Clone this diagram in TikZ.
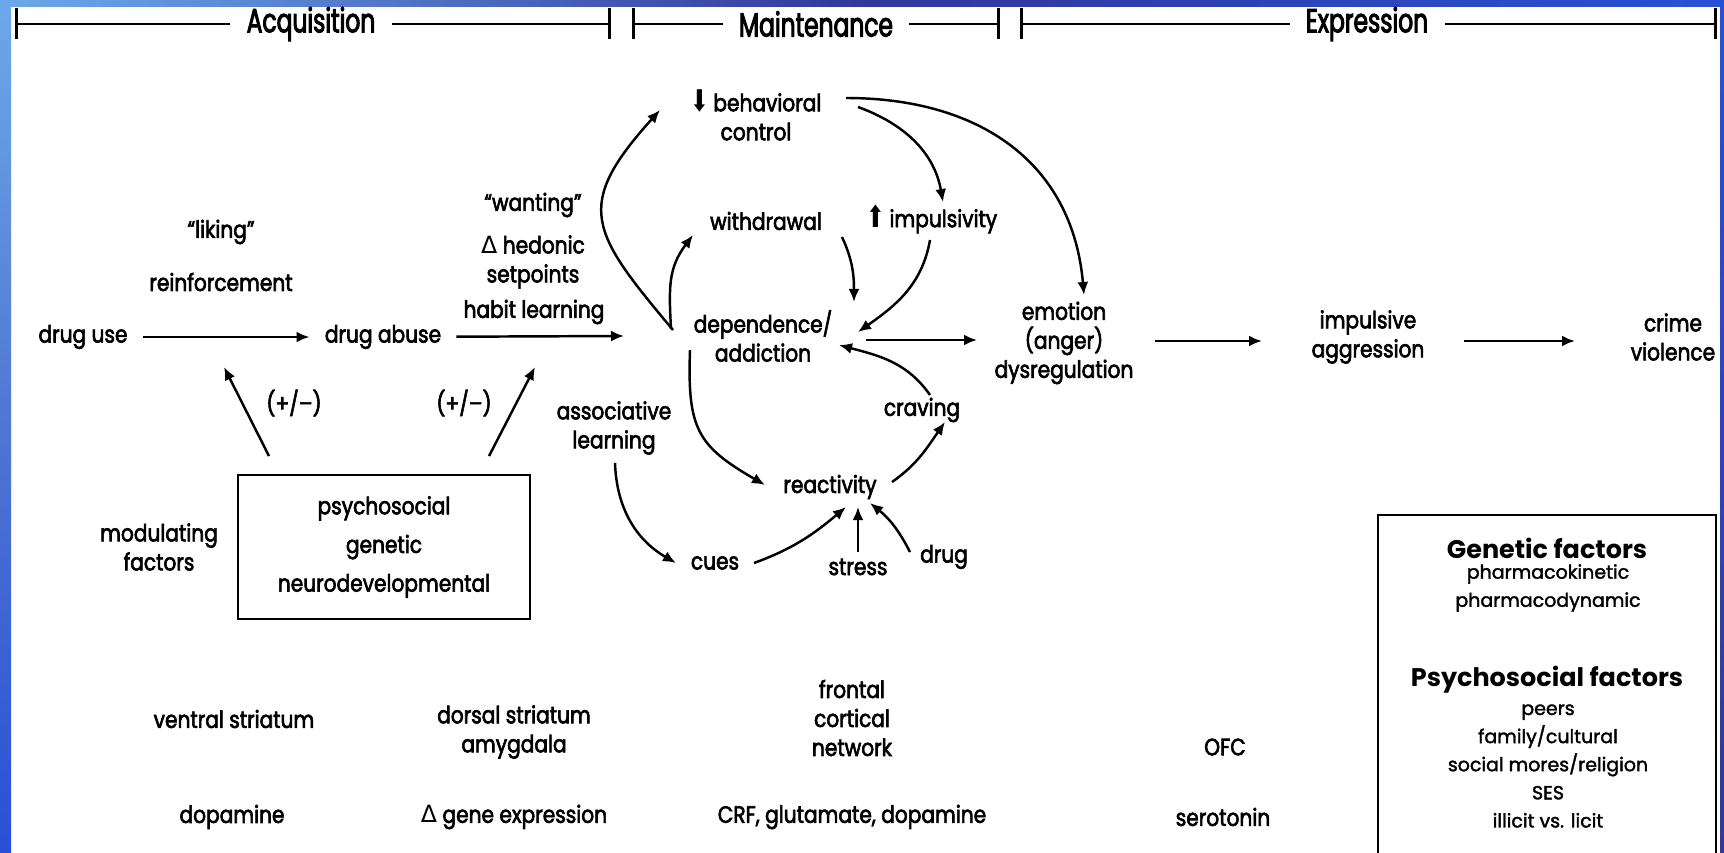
\documentclass[tikz,border=0pt]{standalone}
\usepackage{fontspec}
\setmainfont{Poppins}[FakeStretch=0.85,FakeBold=2.6]
\newfontfamily\phasefont{Poppins}[FakeStretch=0.70,FakeBold=2.8]
\newfontfamily\boxfont{Poppins}[FakeBold=1.8]
\newfontfamily\headfont{Poppins}
\newfontfamily\symfont{DejaVu Sans}
\newfontfamily\tipfont{DejaVu Sans}[FakeStretch=0.75]
\usetikzlibrary{arrows.meta,calc}
\definecolor{SlideLight}{HTML}{6CA9EA}
\definecolor{SlideMid}{HTML}{4F76D2}
\definecolor{SlideDeep}{HTML}{33379B}
\definecolor{SlideBright}{HTML}{2850D6}
\newcommand{\dwn}{{\tipfont\fontsize{17}{16.5}\selectfont ⬇}\,}
\newcommand{\upp}{{\tipfont\fontsize{17}{16.5}\selectfont ⬆}\,}
\newcommand{\dlt}{{\symfont Δ}}
\tikzset{
  lbl/.style={font=\fontsize{13.5}{16.5}\selectfont,align=center,inner sep=0pt},
  phase/.style={font=\phasefont\fontsize{19}{20}\selectfont,inner sep=0pt},
  fact/.style={font=\boxfont\fontsize{10.8}{16}\selectfont,align=center,inner sep=0pt},
  facthead/.style={font=\headfont\bfseries\fontsize{14.5}{16}\selectfont,inner sep=0pt},
  flow/.style={line width=1.4pt,-{Latex[length=2.6mm,width=2.2mm]}},
  rule/.style={line width=1.7pt,shorten <=3.2mm,-{Bar[width=6.2mm]}}
}

\begin{document}
\begin{tikzpicture}[x=0.2mm,y=0.2mm]
  \useasboundingbox (0,0) rectangle (1724,852);
  % slide frame
  \shade[top color=SlideLight,bottom color=SlideMid] (0,426) rectangle (11,852);
  \shade[top color=SlideMid,middle color=SlideDeep,bottom color=SlideBright] (0,0) rectangle (11,426);
  \shade[left color=SlideLight,right color=SlideDeep] (0,845) rectangle (862,852);
  \shade[left color=SlideDeep,right color=SlideBright] (862,845) rectangle (1724,852);
  \shade[top color=SlideBright,middle color=SlideMid,bottom color=SlideDeep] (1720,0) rectangle (1724,845);

  % phases
  \node[phase] (acq) at (311,828) {Acquisition};
  \node[phase] (maint) at (816,828) {Maintenance};
  \node[phase] (expr) at (1367,828) {Expression};
  \coordinate (p0) at (15,828); \coordinate (p1) at (611,828); \coordinate (p2) at (632,828);
  \coordinate (p3) at (1000,828); \coordinate (p4) at (1020,828); \coordinate (p5) at (1717,828);
  \draw[rule] (acq) -- (p0); \draw[rule] (acq) -- (p1);
  \draw[rule] (maint) -- (p2); \draw[rule] (maint) -- (p3);
  \draw[rule] (expr) -- (p4); \draw[rule] (expr) -- (p5);

  % acquisition
  \node[lbl] (druguse) at (83,515) {drug use};
  \node[lbl] (drugabuse) at (383,515) {drug abuse};
  \node[lbl] (liking) at (221,620) {“liking”};
  \node[lbl] (reinf) at (221,570) {reinforcement};
  \node[lbl] (wanting) at (533,647) {“wanting”};
  \node[lbl] (hedonic) at (533,590) {\dlt{} hedonic\\setpoints};
  \node[lbl] (habit) at (534,540) {habit learning};
  \node[lbl] (pmuse) at (294,449) {(+/–)};
  \node[lbl] (pmabuse) at (464,449) {(+/–)};
  \node[lbl,draw,line width=1.1pt,minimum width=58.4mm,minimum height=28.8mm] (modbox) at (384,305) {psychosocial\\[5.5pt]genetic\\[5.5pt]neurodevelopmental};
  \node[lbl] (modlbl) at (159,305) {modulating\\factors};
  \coordinate (useTgt) at (224,485);
  \coordinate (abuseTgt) at (535,485);

  % maintenance
  \node[lbl] (behav) at (756,737) {\dwn behavioral\\control};
  \node[lbl] (withd) at (766,631) {withdrawal};
  \node[lbl] (impuls) at (932,633) {\upp impulsivity};
  \node[lbl] (dep) at (763,516) {dependence/\\addiction};
  \node[lbl] (assoc) at (614,424) {associative\\learning};
  \node[lbl] (craving) at (922,442) {craving};
  \node[lbl] (react) at (830,365) {reactivity};
  \node[lbl] (cues) at (715,289) {cues};
  \node[lbl] (stress) at (858,285) {stress};
  \node[lbl] (drugn) at (944,295) {drug};

  % expression
  \node[lbl] (emo) at (1064,509) {emotion\\(anger)\\dysregulation};
  \node[lbl] (aggr) at (1368,515) {impulsive\\aggression};
  \node[lbl] (crime) at (1673,515) {crime\\violence};

  \draw[flow,shorten <=3mm,shorten >=3mm] (druguse) -- (drugabuse);
  \draw[flow,shorten <=3mm] (drugabuse) -- ($(dep)+(-139,0)$);
  \draw[flow] ($(modbox.north)+(-115,18)$) -- (useTgt);
  \draw[flow] ($(modbox.north)+(105,18)$) -- (abuseTgt);

  \draw[flow] ($(dep)+(-90,6)$) to[out=130,in=228,looseness=1.5] ($(behav)+(-96,5)$);
  \draw[flow] ($(dep)+(-92,7)$) to[out=93,in=233,looseness=1.1] ($(withd)+(-73,-14)$);
  \draw[flow] ($(withd)+(76,-16)$) to[out=-65,in=90] ($(dep)+(91,34)$);
  \draw[flow] ($(impuls)+(-2,-21)$) to[out=-100,in=35] ($(dep)+(95,4)$);
  \draw[flow] ($(behav)+(102,8)$) to[out=-20,in=100] ($(impuls)+(11,17)$);
  \draw[flow] ($(behav)+(90,17)$) to[out=0,in=95,looseness=1.1] ($(emo)+(20,48)$);
  \draw[flow] ($(dep)+(103,-4)$) -- ($(emo)+(-87,3)$);
  \draw[flow] ($(emo)+(91,2)$) -- ($(aggr)+(-106,-4)$);
  \draw[flow] ($(aggr)+(96,-4)$) -- ($(crime)+(-98,-4)$);
  \draw[flow] ($(dep)+(-73,-14)$) to[out=-92,in=150,looseness=1.3] ($(react)+(-65,2)$);
  \draw[flow] ($(react)+(62,5)$) to[out=35,in=235] ($(craving)+(23,-12)$);
  \draw[flow] ($(craving)+(8,15)$) to[out=125,in=-15] ($(dep)+(76,-9)$);
  \draw[flow] ($(assoc)+(1,-35)$) to[out=-88,in=150] ($(cues)+(-39,0)$);
  \draw[flow] ($(cues)+(39,0)$) to[out=20,in=220] ($(react)+(16,-20)$);
  \draw[flow] ($(stress)+(0,15)$) -- ($(react)+(28,-20)$);
  \draw[flow] ($(drugn)+(-34,5)$) to[bend right=12] ($(react)+(40,-16)$);

  % brain regions and transmitters
  \node[lbl] (ventral) at (234,133) {ventral striatum};
  \node[lbl] (dorsal) at (514,120) {dorsal striatum\\amygdala};
  \node[lbl] (frontal) at (852,134) {frontal\\cortical\\network};
  \node[lbl] (ofc) at (1225,105) {OFC};
  \node[lbl] (dopa) at (232,35) {dopamine};
  \node[lbl] (gene) at (514,35) {\dlt{} gene expression};
  \node[lbl] (crf) at (852,35) {CRF, glutamate, dopamine};
  \node[lbl] (sero) at (1223,35) {serotonin};

  % risk factors
  \draw[line width=1.1pt] (1378,-5) |- (1716,337) -- (1716,-5);
  \node[facthead] (genhead) at (1547,304) {Genetic factors};
  \node[fact] (genlist) at (1548,264) {pharmacokinetic\\pharmacodynamic};
  \node[facthead] (psyhead) at (1547,172) {Psychosocial factors};
  \node[fact] (psylist) at (1548,86) {peers\\family/cultural\\social mores/religion\\SES\\illicit vs. licit};
\end{tikzpicture}
\end{document}
